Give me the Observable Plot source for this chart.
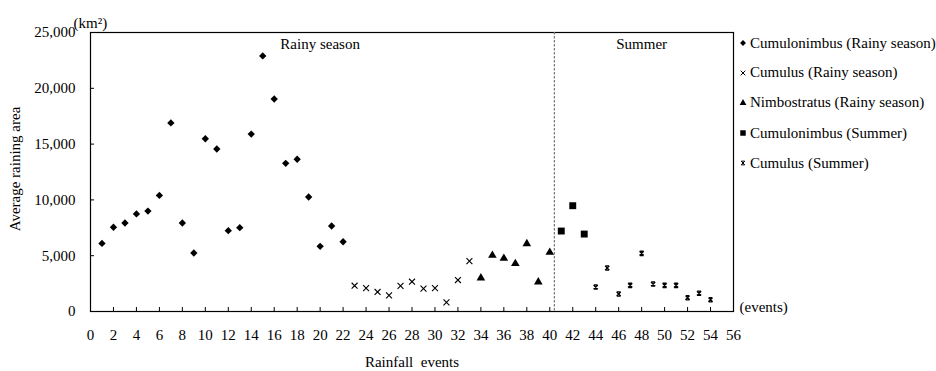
<!DOCTYPE html>
<html>
<head>
<meta charset="utf-8">
<script src="https://cdn.jsdelivr.net/npm/d3@7"></script>
<script src="https://cdn.jsdelivr.net/npm/@observablehq/plot@0.6"></script>
<style>
  body { margin: 0; background: #fff; }
  #wrap { position: relative; width: 936px; height: 371px; font-family: 'Liberation Serif', 'Times New Roman', serif; }
  #legend { position: absolute; left: 737px; top: 0; }
  .row { position: absolute; left: 0; height: 20px; display: flex; align-items: center; white-space: nowrap; font-size: 15px; color: #000; font-family: 'Liberation Serif', serif; }
  .row svg { margin-right: 1px; }
</style>
</head>
<body>
<div id="wrap"><div id="legend"></div></div>
<script>
// ---- data ----
const cbRainyEvents = [1,2,3,4,5,6,7,8,9,10,11,12,13,14,15,16,17,18,19,20,21,22];
const cbRainyArea   = [6100,7550,7930,8740,9000,10400,16900,7930,5240,15480,14560,7240,7510,15900,22900,19040,13280,13640,10260,5840,7660,6250];
const cuRainyEvents = [23,24,25,26,27,28,29,30,31,32,33];
const cuRainyArea   = [2310,2100,1750,1450,2290,2670,2050,2100,820,2820,4520];
const nsRainyEvents = [34,35,36,37,38,39,40];
const nsRainyArea   = [3000,5030,4760,4290,6080,2650,5300];
const cbSummerEvents = [41,42,43];
const cbSummerArea   = [7210,9480,6940];
const cuSummerEvents = [44,45,46,47,48,49,50,51,52,53,54];
const cuSummerArea   = [2190,3900,1570,2340,5210,2460,2340,2340,1240,1630,1060];
const seasonBoundary = 40.4;
const xTicks = d3.range(0, 57, 2);
const yTicks = [0, 5000, 10000, 15000, 20000, 25000];
const seasonLabels = [{x: 20, text: "Rainy season"}, {x: 48, text: "Summer"}];
const legendItems = [
  "Cumulonimbus (Rainy season)",
  "Cumulus (Rainy season)",
  "Nimbostratus (Rainy season)",
  "Cumulonimbus (Summer)",
  "Cumulus (Summer)"
];

const toRows = (xs, ys) => xs.map((x, i) => ({event: x, area: ys[i]}));

// custom symbol: x with small horizontal caps
const xCapped = {
  draw(context, size) {
    const r = Math.sqrt(size) * 0.5;
    context.moveTo(-r, -r); context.lineTo(r, r);
    context.moveTo(-r, r); context.lineTo(r, -r);
    context.moveTo(-r * 0.9, -r); context.lineTo(r * 0.9, -r);
    context.moveTo(-r * 0.9, r); context.lineTo(r * 0.9, r);
  }
};

const font = "'Liberation Serif', serif";

const chart = Plot.plot({
  width: 936,
  height: 371,
  marginLeft: 90,
  marginRight: 203,
  marginTop: 32,
  marginBottom: 60,
  style: {fontFamily: font, fontSize: "15px", color: "#000", background: "#fff"},
  x: {domain: [0, 56]},
  y: {domain: [0, 25000]},
  marks: [
    Plot.frame({stroke: "#000", strokeWidth: 1.2}),
    Plot.axisX({ticks: xTicks, tickSize: -4, tickPadding: 22, tickFormat: d => String(d), label: null, fontSize: 15, fontFamily: font}),
    Plot.axisY({ticks: yTicks, tickSize: -4, tickPadding: 19, tickFormat: d3.format(","), label: null, fontSize: 15, fontFamily: font}),
    Plot.ruleX([seasonBoundary], {stroke: "#777", strokeDasharray: "2.5,1.5", strokeWidth: 1.2}),
    Plot.text(seasonLabels, {x: "x", text: "text", frameAnchor: "top", dy: 6, fontSize: 15, fontFamily: font}),
    Plot.text(["(km²)"], {frameAnchor: "top-left", textAnchor: "start", dx: -17, dy: -15, fontSize: 15, fontFamily: font}),
    Plot.text(["(events)"], {frameAnchor: "bottom-right", textAnchor: "start", dx: 6, dy: 0, fontSize: 15, fontFamily: font}),
    Plot.text(["Rainfall  events"], {frameAnchor: "bottom", lineAnchor: "middle", dy: 51, fontSize: 15, fontFamily: font}),
    Plot.text(["Average raining area"], {frameAnchor: "left", textAnchor: "middle", dx: -75, dy: -3, rotate: -90, fontSize: 15, fontFamily: font}),
    Plot.dot(toRows(cbRainyEvents, cbRainyArea), {x: "event", y: "area", symbol: "diamond2", r: 3.3, fill: "#000", stroke: "none"}),
    Plot.dot(toRows(cuRainyEvents, cuRainyArea), {x: "event", y: "area", symbol: "times", r: 2.8, stroke: "#000", fill: "none", strokeWidth: 1.1}),
    Plot.dot(toRows(nsRainyEvents, nsRainyArea), {x: "event", y: "area", symbol: "triangle", r: 3.2, fill: "#000", stroke: "none"}),
    Plot.dot(toRows(cbSummerEvents, cbSummerArea), {x: "event", y: "area", symbol: "square", r: 3.9, fill: "#000", stroke: "none"}),
    Plot.dot(toRows(cuSummerEvents, cuSummerArea), {x: "event", y: "area", symbol: xCapped, r: 2.4, stroke: "#000", fill: "none", strokeWidth: 1.3})
  ]
});
document.getElementById("wrap").prepend(chart);

// legend
const legendSymbols = [
  {sym: d3.symbolDiamond2, size: 22, fill: "#000", stroke: "none"},
  {sym: d3.symbolTimes, size: 16, fill: "none", stroke: "#000"},
  {sym: d3.symbolTriangle, size: 20, fill: "#000", stroke: "none"},
  {sym: d3.symbolSquare, size: 30, fill: "#000", stroke: "none"},
  {sym: xCapped, size: 14, fill: "none", stroke: "#000"}
];
const rowCenters = [43, 72.5, 102.5, 133, 163];
const legend = document.getElementById("legend");
legendItems.forEach((label, i) => {
  const row = document.createElement("div");
  row.className = "row";
  row.style.top = (rowCenters[i] - 10) + "px";
  const s = legendSymbols[i];
  const path = d3.symbol(s.sym, s.size)();
  row.innerHTML = `<svg width="12" height="12" viewBox="-6 -6 12 12"><path d="${path}" fill="${s.fill}" stroke="${s.stroke}" stroke-width="1"/></svg><span>${label}</span>`;
  legend.appendChild(row);
});
</script>
</body>
</html>
